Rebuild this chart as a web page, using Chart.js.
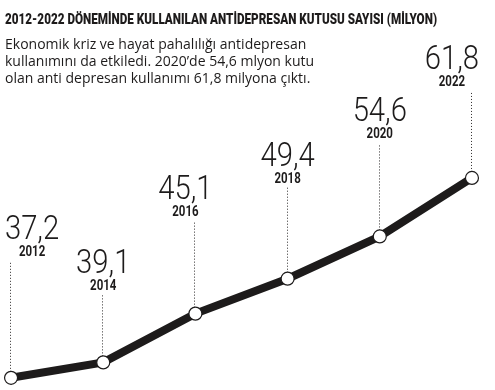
<!DOCTYPE html>
<html>
<head>
<meta charset="utf-8">
<script src="https://cdn.jsdelivr.net/npm/chart.js@4.4.1/dist/chart.umd.min.js"></script>
<style>
  html, body { margin: 0; padding: 0; background: #fff; }
  #wrap { position: relative; width: 495px; height: 390px; }
</style>
</head>
<body>
<div id="wrap"><canvas id="myChart" width="495" height="390"></canvas></div>
<script>
// data
var years = [2012, 2014, 2016, 2018, 2020, 2022];
var values = [37.2, 39.1, 45.1, 49.4, 54.6, 61.8];
var valueTexts = values.map(function (v) { return v.toFixed(1).replace('.', ','); });

var titleText = "2012-2022 DÖNEMİNDE KULLANILAN ANTİDEPRESAN KUTUSU SAYISI (MİLYON)";
var noteLines = [
    "Ekonomik kriz ve hayat pahalılığı antidepresan",
    "kullanımını da etkiledi. 2020’de 54,6 mlyon kutu",
    "olan anti depresan kullanımı 61,8 milyona çıktı."
];

// label layout (px): horizontal shift of the label block, height of the stem above the point
var labelShift = [21, 0, -10, 0, 0, -20];
var labelRise = [122, 72, 98, 96, 98, 92];

var ink = "#1d1b1b";

var labelsPlugin = {
    id: "pointLabels",
    beforeDatasetsDraw: function (chart) {
        var ctx = chart.ctx;
        var meta = chart.getDatasetMeta(0);
        ctx.save();
        ctx.strokeStyle = "#2e2c2c";
        ctx.lineWidth = 1;
        ctx.setLineDash([1, 2]);
        meta.data.forEach(function (pt, i) {
            var x = Math.round(pt.x) - 0.5;
            ctx.beginPath();
            ctx.moveTo(x, pt.y);
            ctx.lineTo(x, pt.y - labelRise[i] + 5);
            ctx.stroke();
        });
        ctx.restore();
    },
    afterDatasetsDraw: function (chart) {
        var ctx = chart.ctx;
        var meta = chart.getDatasetMeta(0);
        ctx.save();
        ctx.fillStyle = ink;
        ctx.textBaseline = "alphabetic";

        meta.data.forEach(function (pt, i) {
            var cx = pt.x + labelShift[i];
            var base = pt.y - labelRise[i];
            ctx.textAlign = "center";

            ctx.font = "bold 14px Roboto";
            var w = ctx.measureText(String(years[i])).width;
            ctx.fillText(String(years[i]), cx, base, w * 0.82);

            ctx.font = "300 34px Roboto";
            w = ctx.measureText(valueTexts[i]).width;
            ctx.fillText(valueTexts[i], cx, base - 17, w * 0.86);
        });

        // heading
        ctx.textAlign = "left";
        ctx.font = "900 15.5px Roboto";
        ctx.fillText(titleText, 5, 24, 432);

        ctx.font = "14px 'Open Sans'";
        noteLines.forEach(function (line, i) {
            ctx.fillText(line, 5, 49 + i * 17);
        });
        ctx.restore();
    }
};

new Chart("myChart", {
    type: "line",
    data: {
        datasets: [{
            data: years.map(function (y, i) { return { x: y, y: values[i] }; }),
            borderColor: ink,
            borderWidth: 8,
            borderCapStyle: "butt",
            tension: 0,
            pointRadius: 6.5,
            pointBackgroundColor: "#fff",
            pointBorderColor: ink,
            pointBorderWidth: 1.2,
            clip: false
        }]
    },
    options: {
        responsive: false,
        animation: false,
        devicePixelRatio: 1,
        layout: { padding: 0, autoPadding: false },
        plugins: {
            legend: { display: false },
            title: { display: false },
            tooltip: { enabled: false }
        },
        scales: {
            x: { type: "linear", min: 2011.76, max: 2022.5, display: false },
            y: { min: 35.7, max: 83.7, display: false }
        }
    },
    plugins: [labelsPlugin]
});
</script>
</body>
</html>
